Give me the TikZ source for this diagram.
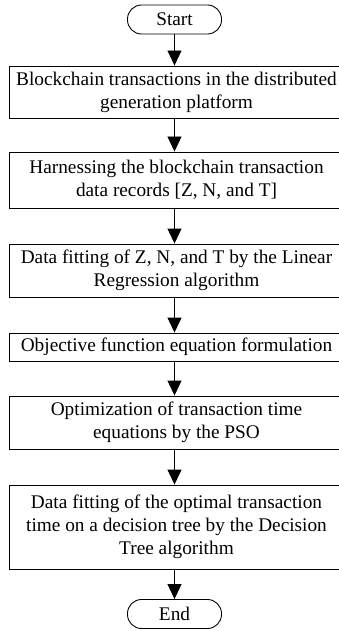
\documentclass[tikz,border=0pt]{standalone}
\usepackage{fontspec}
\setmainfont{Liberation Serif}
\usetikzlibrary{arrows.meta}
\begin{document}
\begin{tikzpicture}[x=1pt,y=1pt,
  txt/.style={font=\fontsize{19.3}{23}\selectfont},
  procbox/.style={txt, draw, line width=0.9pt, minimum width=335pt, align=center, inner sep=0pt},
  term/.style={txt, draw, line width=0.9pt, rounded corners=14pt, minimum width=94pt, minimum height=29pt, inner sep=0pt},
  flow/.style={line width=0.9pt, -{Triangle[length=15pt,width=14pt]}}]
\useasboundingbox (0,0) rectangle (339,-631);
\node[term] (start) at (174.5,-19.5) {Start};
\node[procbox, minimum height=52pt] (b1) at (176.5,-92) {Blockchain transactions in the distributed\\generation platform};
\node[procbox, minimum height=56pt] (b2) at (176.5,-180) {Harnessing the blockchain transaction\\data records [Z, N, and T]};
\node[procbox, minimum height=53pt] (b3) at (176.5,-270.5) {Data fitting of Z, N, and T by the Linear\\Regression algorithm};
\node[procbox, minimum height=28pt] (b4) at (176.5,-347) {Objective function equation formulation};
\node[procbox, minimum height=53pt] (b5) at (176.5,-422.5) {Optimization of transaction time\\equations by the PSO};
\node[procbox, minimum height=84pt] (b6) at (176.5,-527) {Data fitting of the optimal transaction\\time on a decision tree by the Decision\\Tree algorithm};
\node[term] (end) at (174.5,-614) {End};
\draw[flow] (start) -- (start |- b1.north);
\draw[flow] (start |- b1.south) -- (start |- b2.north);
\draw[flow] (start |- b2.south) -- (start |- b3.north);
\draw[flow] (start |- b3.south) -- (start |- b4.north);
\draw[flow] (start |- b4.south) -- (start |- b5.north);
\draw[flow] (start |- b5.south) -- (start |- b6.north);
\draw[flow] (start |- b6.south) -- (end);
\end{tikzpicture}
\end{document}
